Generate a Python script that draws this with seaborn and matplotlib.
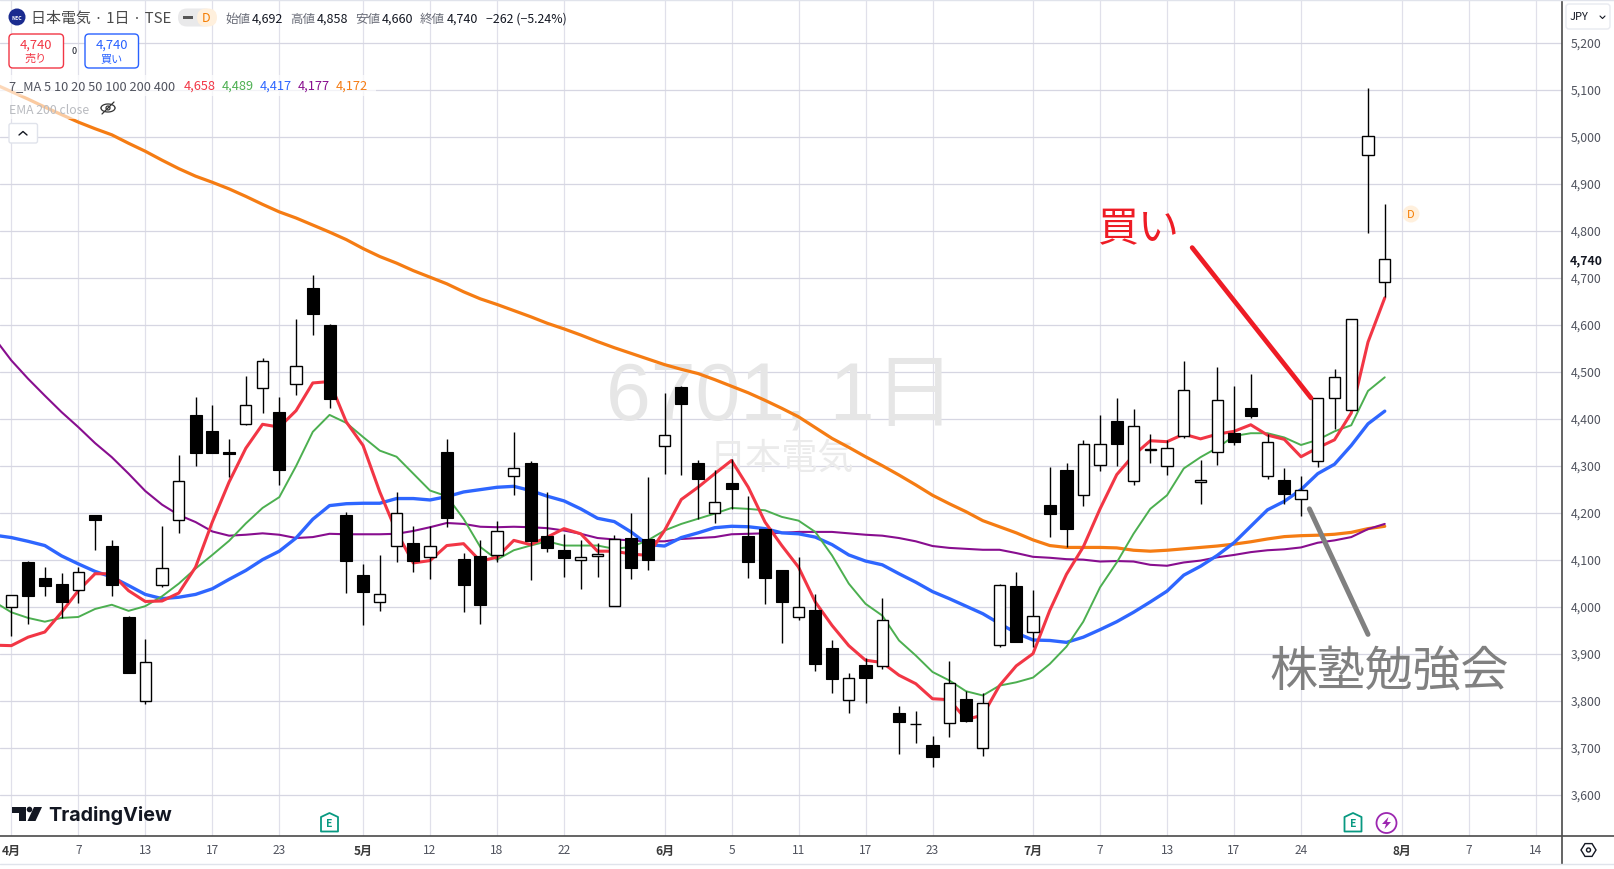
import numpy as np
import pandas as pd
import matplotlib
matplotlib.use("Agg")
import matplotlib.pyplot as plt
from matplotlib.patches import FancyBboxPatch, Rectangle, Circle, Polygon
import seaborn as sns

sns.set_theme(style="white")
JP = ['Noto Sans CJK JP', 'DejaVu Sans']
plt.rcParams['font.family'] = JP

# ---------- data ----------
opens = [4000,4097,4062,4049,4036,4196,4130,3979,3800,4046,4185,4409,4375,4330,4389,4466,4416,4474,4679,4601,
         4196,4069,4011,4130,4137,4106,4330,4102,4109,4111,4279,4307,4152,4122,4100,4108,4002,4148,4145,4342,
         4469,4307,4201,4265,4152,4167,4079,3979,3994,3913,3802,3877,3874,3775,3751,3707,3753,3805,3700,3919,
         4045,3948,4218,4292,4238,4302,4396,4268,4335,4300,4364,4266,4330,4371,4424,4279,4270,4229,4311,4445,
         4419,4962,4692]
highs = [4025,4098,4086,4072,4086,4196,4143,3982,3933,4173,4324,4448,4431,4358,4492,4530,4448,4613,4707,4603,
         4202,4092,4111,4245,4173,4173,4358,4116,4143,4184,4372,4311,4245,4156,4143,4136,4154,4201,4277,4456,
         4471,4313,4292,4316,4237,4167,4079,4107,4028,3930,3860,3892,4020,3790,3779,3726,3886,3822,3817,4050,
         4074,4036,4299,4307,4356,4409,4444,4422,4369,4356,4524,4312,4510,4471,4497,4368,4295,4278,4445,4507,
         4613,5104,4858]
lows = [3938,3965,4023,3977,4008,4121,4023,3859,3793,4043,4157,4301,4327,4277,4387,4412,4259,4452,4578,4424,
        4029,3961,3991,4097,4074,4059,4170,3989,3963,4095,4238,4057,4118,4065,4038,4065,4002,4059,4078,4284,
        4282,4188,4178,4209,4061,4006,3923,3972,3863,3818,3774,3797,3869,3687,3710,3659,3723,3755,3684,3916,
        3925,3916,4150,4127,4216,4289,4301,4260,4307,4282,4360,4219,4302,4346,4403,4272,4219,4193,4299,4379,
        4419,4796,4660]
closes = [4025,4023,4044,4010,4074,4186,4046,3859,3883,4083,4268,4327,4327,4325,4430,4523,4291,4513,4623,4442,
          4099,4033,4028,4200,4099,4130,4189,4048,4004,4161,4296,4140,4125,4104,4106,4113,4145,4084,4101,4367,
          4433,4272,4223,4252,4095,4063,4010,4000,3878,3846,3849,3850,3972,3755,3752,3682,3838,3757,3796,4047,
          3925,3981,4199,4167,4347,4347,4348,4385,4336,4339,4462,4270,4441,4352,4406,4351,4240,4249,4445,4489,
          4613,5002,4740]

# moving averages start one bar before the first candle (index -1)
ma5 = [3919,3918,3936,3947,3989,4035,4071,4071,4035,4012,4013,4030,4085,4181,4266,4338,4389,4383,4418,4477,4480,
       4394,4344,4245,4160,4094,4099,4131,4135,4098,4106,4142,4133,4149,4167,4156,4119,4119,4113,4110,4163,
       4229,4255,4284,4312,4255,4181,4131,4085,4011,3961,3918,3887,3882,3855,3837,3805,3803,3761,3770,3833,
       3875,3901,3993,4070,4128,4209,4282,4323,4354,4352,4368,4358,4368,4374,4388,4366,4357,4320,4339,4356,
       4413,4564,4658]
ma10 = [4011,3989,3977,3969,3977,3979,3996,4005,3992,4002,4023,4050,4082,4111,4141,4178,4211,4234,4300,4373,4409,
        4392,4362,4333,4320,4284,4248,4236,4188,4128,4101,4121,4131,4140,4131,4131,4131,4124,4128,4142,4163,
        4177,4188,4199,4211,4209,4206,4192,4184,4160,4110,4050,4007,3982,3929,3897,3862,3844,3821,3812,3833,
        3840,3850,3879,3916,3969,4042,4095,4156,4209,4238,4295,4319,4339,4364,4370,4370,4361,4345,4356,4374,
        4387,4460,4489]
ma20 = [4153,4148,4140,4131,4109,4092,4076,4064,4046,4027,4018,4021,4027,4039,4059,4078,4101,4119,4147,4187,4216,
        4220,4221,4221,4231,4231,4228,4235,4245,4250,4255,4257,4248,4236,4226,4209,4189,4182,4160,4133,4130,
        4148,4158,4169,4172,4171,4167,4158,4156,4149,4133,4111,4098,4090,4071,4053,4033,4018,4002,3986,3965,
        3945,3930,3929,3925,3936,3952,3969,3989,4011,4034,4068,4087,4110,4137,4172,4207,4225,4250,4284,4304,
        4344,4390,4417]
ma50 = [4572,4525,4486,4450,4415,4383,4349,4319,4284,4247,4218,4196,4181,4161,4152,4154,4157,4154,4147,4149,4156,
        4155,4155,4155,4156,4162,4170,4179,4177,4171,4170,4171,4170,4168,4163,4156,4147,4144,4142,4140,4140,
        4145,4147,4149,4155,4156,4157,4158,4160,4160,4160,4157,4154,4152,4147,4140,4130,4126,4124,4122,4122,
        4115,4107,4105,4102,4101,4097,4098,4097,4090,4088,4095,4099,4106,4111,4117,4121,4123,4127,4137,4142,
        4149,4166,4177]
ma100 = [5113,5097,5081,5064,5048,5032,5018,5005,4987,4970,4951,4933,4917,4904,4890,4874,4857,4841,4828,4813,4798,
         4782,4763,4746,4732,4716,4702,4688,4671,4656,4644,4631,4618,4604,4592,4579,4565,4552,4540,4528,4516,
         4506,4497,4484,4470,4456,4440,4423,4405,4382,4359,4340,4320,4301,4281,4260,4238,4220,4203,4184,4171,
         4158,4143,4131,4127,4127,4127,4126,4121,4119,4121,4124,4127,4130,4134,4139,4145,4150,4152,4153,4155,
         4159,4167,4172]

price_ticks = [5200,5100,5000,4900,4800,4700,4600,4500,4400,4300,4200,4100,4000,3900,3800,3700,3600]
date_pos = [0,4,8,12,16,21,25,29,33,39,43,47,51,55,61,65,69,73,77,83,87,91]
date_labels = ['4月','7','13','17','23','5月','12','18','22','6月','5','11','17','23','7月','7','13','17','24','8月','7','14']
buy_line_x, buy_line_y = [70.5, 77.6], [4765, 4445]
study_line_x, study_line_y = [77.5, 81.0], [4209, 3942]

W, H = 1615, 870
fig = plt.figure(figsize=(W/100, H/100), dpi=100, facecolor='white')
AX_R, AX_B = 1562.3, 837.3
ax = fig.add_axes([0, (H-AX_B)/H, AX_R/W, AX_B/H])
ax.set_xlim(-0.675, 92.6)
ax.set_ylim(3512.3, 5294)
ax.set_facecolor('white')
for s in ax.spines.values():
    s.set_visible(False)
ax.set_xticks(date_pos)
ax.set_yticks(price_ticks)
ax.tick_params(left=False, bottom=False, labelleft=False, labelbottom=False)
ax.grid(True, axis='x', color='#e0e0ea', lw=0.9, zorder=0)
ax.grid(True, axis='y', color='#d6d6e2', lw=0.9, zorder=0)
ax.set_axisbelow(True)

# watermark
ax.text(781/16.75-0.675, 4700+(279.3-399)/0.47, '6701, 1日', fontsize=58, color='#e6e6e6',
        ha='center', va='center', zorder=1, family=['Liberation Sans', 'Noto Sans CJK JP'])
ax.text(782/16.75-0.675, 4700+(279.3-459)/0.47, '日本電気', fontsize=26, color='#ebebeb',
        ha='center', va='center', zorder=1, family=JP)

# moving averages
idx = np.arange(-1, 83)
df = pd.DataFrame({'i': idx, 'ma5': ma5, 'ma10': ma10, 'ma20': ma20, 'ma50': ma50, 'ma100': ma100})
styles = [('ma100', '#f57c13', 2.3), ('ma50', '#880e8f', 1.5), ('ma20', '#2e66ff', 2.4),
          ('ma10', '#4caf50', 1.4), ('ma5', '#f23645', 2.2)]
for col, c, lw in styles:
    sns.lineplot(data=df, x='i', y=col, color=c, lw=lw, ax=ax, errorbar=None, sort=False,
                 zorder=3, solid_joinstyle='round')
ax.set_xlabel('')
ax.set_ylabel('')

# candles
x = np.arange(len(opens))
o, h, l, c = map(np.array, (opens, highs, lows, closes))
ax.vlines(x, l, h, color='black', lw=1.0, zorder=4)
up = c >= o
ax.bar(x[up], (c-o)[up], bottom=o[up], width=0.68, facecolor='white', edgecolor='black', lw=1.0, zorder=5)
ax.bar(x[~up], (o-c)[~up], bottom=c[~up], width=0.72, facecolor='black', edgecolor='black', lw=0.8, zorder=5)

# hand-drawn annotations
ax.plot(buy_line_x, buy_line_y, color='#ee1c25', lw=3.4, zorder=7, solid_capstyle='round')
ax.plot(study_line_x, study_line_y, color='#808080', lw=3.6, zorder=7, solid_capstyle='round')

# overlay in pixel units for the surrounding chrome
ov = fig.add_axes([0, 0, 1, 1], zorder=10)
ov.set_xlim(0, W)
ov.set_ylim(H, 0)
ov.axis('off')
ov.patch.set_alpha(0)


def T(px, py, s, size=9, color='#131722', ha='left', va='center', weight='normal', **kw):
    return ov.text(px, py, s, fontsize=size, color=color, ha=ha, va=va, fontweight=weight, family=JP, **kw)


T(1139, 230, '買い', size=29.5, color='#ee1c25', ha='center')
T(1389, 673, '株塾勉強会', size=34.5, color='#808080', ha='center')

# axes lines
ov.plot([0, W], [AX_B, AX_B], color='#4a4a4a', lw=1.2)
ov.plot([AX_R, AX_R], [0, 865], color='#4a4a4a', lw=1.2)
ov.plot([0, W], [865, 865], color='#e0e3eb', lw=1.0)
ov.plot([0, W], [0.5, 0.5], color='#e0e3eb', lw=1.0)

# price labels
ypx = lambda v: 279.3 + (4700 - v) * 0.47
xpx = lambda i: 11.3 + 16.75 * i
for v in price_ticks:
    T(1586, ypx(v), f'{v:,}', size=8.8, color='#50535e', ha='center')
T(1586, ypx(4740), '4,740', size=8.8, color='#131722', ha='center', weight='bold')

# date labels
for p, lab in zip(date_pos, date_labels):
    month = '月' in lab
    T(xpx(p), 851, lab, size=8.6, color='#50535e' if not month else '#3a3a3a', ha='center',
      weight='bold' if month else 'normal')

# header
ov.add_patch(Circle((17, 18), 8.5, fc='#1a2b8f', ec='none'))
T(17, 18, 'NEC', size=3.8, color='white', ha='center', weight='bold')
T(31, 19, '日本電気 · 1日 · TSE', size=10.8, color='#4a4a4a')
ov.add_patch(FancyBboxPatch((178, 9.5), 36, 18, boxstyle='round,pad=0,rounding_size=9', fc='#e9e9ea', ec='none'))
ov.add_patch(FancyBboxPatch((197, 9.5), 20, 18, boxstyle='round,pad=0,rounding_size=9', fc='#fff0dd', ec='none'))
ov.add_patch(Rectangle((183, 16.5), 10, 3.4, fc='#555555', ec='none'))
T(206.5, 19, 'D', size=9, color='#f57c00', ha='center')
for px, lab, pv, val in [(225, '始値', 252, '4,692'), (290, '高値', 317, '4,858'),
                         (355, '安値', 382, '4,660'), (420, '終値', 447, '4,740')]:
    T(px, 19, lab, size=9, color='#6a6d78')
    T(pv, 19, val, size=9, color='#131722')
T(486, 19, '−262 (−5.24%)', size=8.9, color='#131722')

# buy / sell buttons
ov.add_patch(FancyBboxPatch((9, 35), 54.5, 34, boxstyle='round,pad=0,rounding_size=4', fc='white', ec='#f23645', lw=1))
ov.add_patch(FancyBboxPatch((85, 35), 53.5, 34, boxstyle='round,pad=0,rounding_size=4', fc='white', ec='#2962ff', lw=1))
T(36, 45, '4,740', size=9.4, color='#f23645', ha='center')
T(36, 59, '売り', size=8, color='#f23645', ha='center')
T(112, 45, '4,740', size=9.4, color='#2962ff', ha='center')
T(112, 59, '買い', size=8, color='#2962ff', ha='center')
T(74, 51, '0', size=6.5, ha='center')

# indicator legend (semi-transparent white behind text)
ov.add_patch(Rectangle((0, 76), 376, 21, fc='white', ec='none', alpha=0.7))
ov.add_patch(Rectangle((0, 97), 122, 23, fc='white', ec='none', alpha=0.6))
T(9, 86.5, '7_MA 5 10 20 50 100 200 400', size=9.2, color='#50535e')
for px, s, col in [(184, '4,658', '#f23645'), (222, '4,489', '#4caf50'), (260, '4,417', '#2e66ff'),
                   (298, '4,177', '#880e8f'), (336, '4,172', '#f57c13')]:
    T(px, 86.5, s, size=9.2, color=col)
T(9, 110, 'EMA 200 close', size=8.8, color='#b9bbc0')
# crossed eye
th = np.linspace(0, np.pi, 30)
ov.plot(108 + 7*np.cos(th), 109 - 4*np.sin(th), color='#333333', lw=0.9)
ov.plot(108 + 7*np.cos(th), 109 + 4*np.sin(th), color='#333333', lw=0.9)
ov.add_patch(Circle((108, 109), 2, fc='none', ec='#333333', lw=0.9))
ov.plot([102, 114], [115, 103], color='#333333', lw=0.9)
# chevron button
ov.add_patch(FancyBboxPatch((9, 124.5), 28.5, 19.5, boxstyle='round,pad=0,rounding_size=2', fc='white', ec='#e0e3eb', lw=1))
ov.plot([19, 23, 27], [136, 132.5, 136], color='#131722', lw=1)

# currency box
ov.add_patch(FancyBboxPatch((1566, 5), 44, 25, boxstyle='round,pad=0,rounding_size=3', fc='white', ec='#e8eaf0', lw=1))
T(1570, 17.5, 'JPY', size=8, color='#131722')
ov.plot([1600, 1602.5, 1605], [17, 19.5, 17], color='#131722', lw=0.8)

# D flag next to last bar
ov.add_patch(Circle((1411, 215), 8.5, fc='#fff0dd', ec='none'))
T(1411, 215.5, 'D', size=8, color='#f57c00', ha='center')


def earnings(px):
    py = 824
    ov.add_patch(Polygon([(px-8.5, py-6), (px, py-10), (px+8.5, py-6), (px+8.5, py+8.5), (px-8.5, py+8.5)],
                         closed=True, fc='white', ec='#089981', lw=1.3, joinstyle='round'))
    T(px, py+0.5, 'E', size=7.5, color='#089981', ha='center', weight='bold')


earnings(329.5)
earnings(1353)
ov.add_patch(Circle((1386.5, 824), 10, fc='white', ec='#9c27b0', lw=1.3))
ov.add_patch(Polygon([(1388.5, 818), (1382, 825), (1386, 825), (1384.5, 830), (1391, 823), (1387, 823)],
                     closed=True, fc='#9c27b0', ec='none'))

# gear icon
ov.add_patch(Polygon([(1581, 851), (1585, 844.6), (1592, 844.6), (1596, 851), (1592, 857.4), (1585, 857.4)],
                     closed=True, fc='white', ec='#131722', lw=1.0))
ov.add_patch(Circle((1588.5, 851), 2, fc='white', ec='#131722', lw=1.0))

# TradingView mark
ov.add_patch(Polygon([(12, 808), (26, 808), (26, 822), (19, 822), (19, 814), (12, 814)], closed=True, fc='#131722', ec='none'))
ov.add_patch(Circle((29.5, 810.5), 2.8, fc='#131722', ec='none'))
ov.add_patch(Polygon([(27.5, 822), (34, 808), (42, 808), (35.5, 822)], closed=True, fc='#131722', ec='none'))
ov.text(48.5, 816, 'TradingView', fontsize=14.2, color='#131722', fontweight=700, family='Inter', ha='left', va='center')

fig.savefig('out.png', dpi=100)
